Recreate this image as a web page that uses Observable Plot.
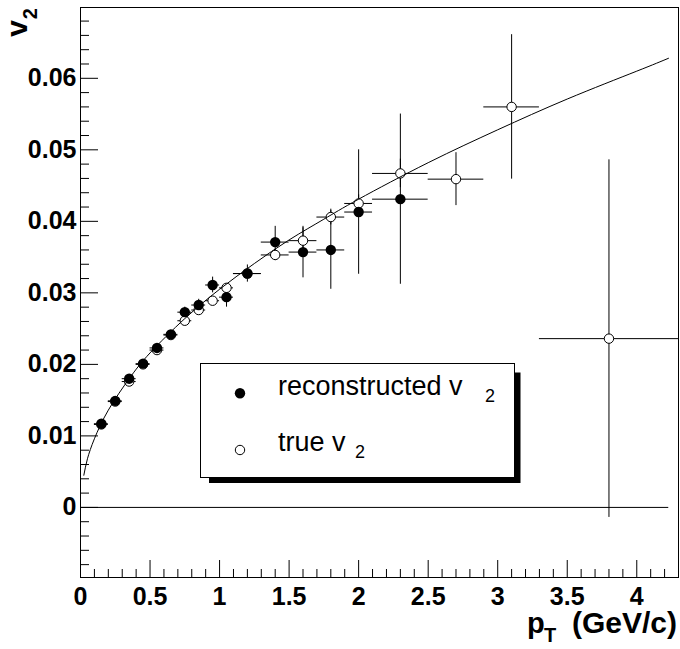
<!DOCTYPE html>
<html>
<head>
<meta charset="utf-8">
<script src="https://cdn.jsdelivr.net/npm/d3@7"></script>
<script src="https://cdn.jsdelivr.net/npm/@observablehq/plot@0.6"></script>
<style>
  body { margin: 0; background: #fff; }
  #chart { position: relative; width: 680px; height: 649px; }
</style>
</head>
<body>
<div id="chart"></div>
<script>
// ---------- data ----------
const recoPt    = [0.15, 0.25, 0.35, 0.45, 0.55, 0.65, 0.75, 0.85, 0.95, 1.05, 1.2, 1.4, 1.6, 1.8, 2.0, 2.3];
const recoV2    = [0.0117, 0.0149, 0.0180, 0.0201, 0.0223, 0.0242, 0.0273, 0.0283, 0.0311, 0.0294, 0.0327, 0.0371, 0.0357, 0.0360, 0.0413, 0.0431];
const recoErrV2 = [0.0003, 0.0003, 0.0003, 0.0004, 0.0005, 0.0005, 0.0007, 0.0008, 0.0011, 0.0014, 0.0012, 0.0022, 0.0036, 0.0055, 0.0087, 0.0119];
const recoErrPt = [0.05, 0.05, 0.05, 0.05, 0.05, 0.05, 0.05, 0.05, 0.05, 0.05, 0.1, 0.1, 0.1, 0.1, 0.1, 0.2];

const truePt    = [0.15, 0.25, 0.35, 0.45, 0.55, 0.65, 0.75, 0.85, 0.95, 1.05, 1.2, 1.4, 1.6, 1.8, 2.0, 2.3, 2.7, 3.1, 3.8];
const trueV2    = [0.0116, 0.0148, 0.0176, 0.0200, 0.0220, 0.0241, 0.0261, 0.0276, 0.0289, 0.0307, 0.0327, 0.0353, 0.0373, 0.0406, 0.0425, 0.0467, 0.0459, 0.0560, 0.0236];
const trueErrV2 = [0.0002, 0.0002, 0.0002, 0.0002, 0.0003, 0.0003, 0.0003, 0.0004, 0.0004, 0.0005, 0.0006, 0.0008, 0.0018, 0.0011, 0.0012, 0.0020, 0.0037, 0.0101, 0.0250];
const trueErrPt = [0.05, 0.05, 0.05, 0.05, 0.05, 0.05, 0.05, 0.05, 0.05, 0.05, 0.1, 0.1, 0.1, 0.1, 0.1, 0.2, 0.2, 0.2, 0.5];

// fit curve samples
const fitPt = [0.024, 0.05, 0.1, 0.2, 0.35, 0.5, 0.75, 1.0, 1.25, 1.5, 1.75, 2.0, 2.5, 3.0, 3.5, 4.0, 4.228];
const fitV2 = [0.0045, 0.0068, 0.0096, 0.0136, 0.0180, 0.0216, 0.0264, 0.0305, 0.0341, 0.0374, 0.0403, 0.0431, 0.0482, 0.0528, 0.0571, 0.0610, 0.0628];

// horizontal zero line
const zeroLine = [{ x1: 0, x2: 4.23, y: 0 }];

const xTickValues = [0, 0.5, 1, 1.5, 2, 2.5, 3, 3.5, 4];
const yTickValues = [0, 0.01, 0.02, 0.03, 0.04, 0.05, 0.06];
const xDomain = [0, 4.3];
const yDomain = [-0.0098, 0.0699];

const legendLabels = ["reconstructed v", "true v"];
const legendSub = "2";
const xTitle = ["p", "T", "(GeV/c)"];
const yTitle = ["v", "2"];

// ---------- build ----------
const reco = recoPt.map((pt, i) => ({ pt, v2: recoV2[i], ey: recoErrV2[i], ex: recoErrPt[i] }));
const truth = truePt.map((pt, i) => ({ pt, v2: trueV2[i], ey: trueErrV2[i], ex: trueErrPt[i] }));
const fit = fitPt.map((pt, i) => ({ pt, v2: fitV2[i] }));

const W = 680, H = 649, ML = 80, MR = 2, MT = 7, MB = 72;
const PW = W - ML - MR, PH = H - MT - MB;
const FONT = "'Liberation Sans', Arial, Helvetica, sans-serif";

const xMinor = d3.range(1, 43).filter(i => i % 5 !== 0).map(i => i / 10);
const yMinor = d3.range(-4, 35).filter(i => i % 5 !== 0).map(i => i * 0.002);

const errMarks = (data) => [
  Plot.ruleX(data, { x: "pt", y1: d => d.v2 - d.ey, y2: d => d.v2 + d.ey, stroke: "black", strokeWidth: 1 }),
  Plot.ruleY(data, { y: "v2", x1: d => d.pt - d.ex, x2: d => d.pt + d.ex, stroke: "black", strokeWidth: 1 })
];

const chart = Plot.plot({
  width: W, height: H,
  marginLeft: ML, marginRight: MR, marginTop: MT, marginBottom: MB,
  x: { domain: xDomain },
  y: { domain: yDomain },
  style: { fontFamily: FONT, background: "white", color: "black" },
  marks: [
    Plot.ruleY(zeroLine, { y: "y", x1: "x1", x2: "x2", stroke: "black", strokeWidth: 1 }),
    Plot.tickX(xMinor, { x: d => d, insetTop: PH - 8, stroke: "black" }),
    Plot.tickX(xTickValues, { x: d => d, insetTop: PH - 17, stroke: "black" }),
    Plot.tickY(yMinor, { y: d => d, insetRight: PW - 9, stroke: "black" }),
    Plot.tickY(yTickValues, { y: d => d, insetRight: PW - 18, stroke: "black" }),
    Plot.axisX(xTickValues, { tickSize: 0, tickPadding: 10, fontSize: 25, fontWeight: "bold", label: null, tickFormat: d => String(d) }),
    Plot.axisY(yTickValues, { tickSize: 0, tickPadding: 4, fontSize: 25, fontWeight: "bold", label: null, tickFormat: d => d === 0 ? "0" : d.toFixed(2) }),
    ...errMarks(truth),
    ...errMarks(reco),
    Plot.dot(truth, { x: "pt", y: "v2", r: 4.7, fill: "white", stroke: "black", strokeWidth: 1 }),
    Plot.line(fit, { x: "pt", y: "v2", curve: "natural", stroke: "black", strokeWidth: 1 }),
    Plot.dot(reco, { x: "pt", y: "v2", r: 5.2, fill: "black", stroke: "none" }),
    Plot.frame({ stroke: "black", strokeWidth: 1 })
  ]
});
document.getElementById("chart").appendChild(chart);

const svg = d3.select(chart);

// x-axis title
const xt = svg.append("text")
  .attr("font-family", FONT).attr("font-weight", "bold").attr("fill", "black")
  .attr("text-anchor", "start")
  .attr("y", 633);
xt.append("tspan").attr("x", 527).attr("font-size", 29).text(xTitle[0]);
xt.append("tspan").attr("x", 544).attr("dy", 9).attr("font-size", 20).text(xTitle[1]);
xt.append("tspan").attr("x", 572).attr("dy", -9).attr("font-size", 30).text(xTitle[2]);

// y-axis title
const yt = svg.append("text")
  .attr("font-family", FONT).attr("font-weight", "bold").attr("fill", "black")
  .attr("text-anchor", "end")
  .attr("transform", "translate(27,8) rotate(-90)");
yt.append("tspan").attr("font-size", 30).text(yTitle[0]);
yt.append("tspan").attr("font-size", 20).attr("dx", 1).attr("dy", 10).text(yTitle[1]);

// legend
const lg = svg.append("g").attr("text-anchor", "start");
lg.append("rect").attr("x", 209).attr("y", 372.5).attr("width", 311.5).attr("height", 110.5).attr("fill", "black");
lg.append("rect").attr("x", 200.5).attr("y", 363.5).attr("width", 314).attr("height", 114)
  .attr("fill", "white").attr("stroke", "black").attr("stroke-width", 1);
lg.append("circle").attr("cx", 240).attr("cy", 393.3).attr("r", 5.2).attr("fill", "black");
lg.append("circle").attr("cx", 240).attr("cy", 450).attr("r", 4.7).attr("fill", "white").attr("stroke", "black");
const rows = [{ y: 395, subX: 485 }, { y: 451, subX: 355 }];
legendLabels.forEach((lab, i) => {
  const t = lg.append("text").attr("font-family", FONT).attr("fill", "black")
    .attr("text-anchor", "start").attr("y", rows[i].y);
  t.append("tspan").attr("x", 278).attr("font-size", 27).text(lab);
  t.append("tspan").attr("x", rows[i].subX).attr("dy", 7).attr("font-size", 18).text(legendSub);
});
</script>
</body>
</html>
